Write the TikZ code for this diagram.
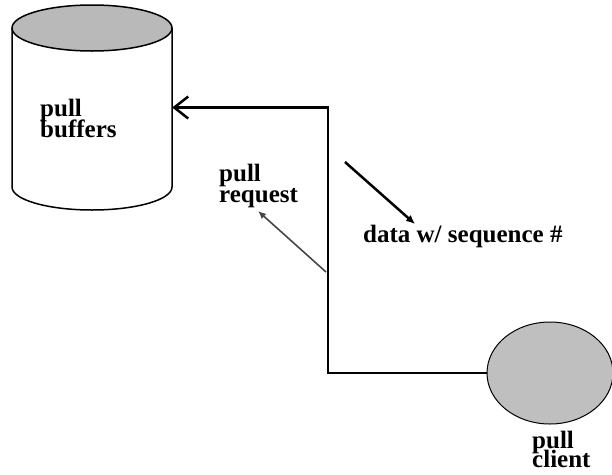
\documentclass[tikz,border=0pt]{standalone}
\usepackage{fontspec}
\setmainfont{Liberation Serif}
\usetikzlibrary{shapes.geometric,arrows.meta}
\newcommand\tightlines{\lineskiplimit=-30pt\relax}

\begin{document}
\begin{tikzpicture}[x=1pt,y=-1pt,
    lbl/.style={font=\fontsize{25}{21}\selectfont\bfseries\tightlines,
        align=left,inner sep=0pt,anchor=north west},
    wire/.style={line width=2.5pt},
    thinwire/.style={line width=1.6pt,gray!55!black}]
    \useasboundingbox (0,0) rectangle (612,474);
    % store: a cylinder drawn by hand round an empty node
    \node[minimum width=160pt,minimum height=205pt,inner sep=0pt] (buffers) at (92,107.5) {};
    \draw[line width=1.5pt,fill=white] (12,28) -- (12,187)
        arc[start angle=180,end angle=0,x radius=80,y radius=23] -- (172,28);
    \draw[line width=1.5pt,fill=gray!55] (92,28) ellipse[x radius=80,y radius=23];
    % client
    \node[ellipse,draw,line width=1pt,fill=gray!50,
        minimum width=126pt,minimum height=102pt,inner sep=0pt]
        (client) at (550,373) {};
    % labels
    \node[lbl] (buflbl) at (40,99) {pull\\buffers};
    \node[lbl] (reqlbl) at (219,164) {pull\\request};
    \node[lbl] (datalbl) at (363,225) {data w/ sequence \#};
    \node[lbl,font=\fontsize{25}{19}\selectfont\bfseries\tightlines]
        (clilbl) at (532,431) {pull\\client};
    % wire from client to buffers
    \coordinate (bus) at (328,373);
    \draw[wire,-{Straight Barb[length=14pt,width=22pt]}] (client.west) -- (bus) |- (buffers.east);
    % request and data arrows
    \coordinate (reqfoot) at (326,272);
    \coordinate (reqtip) at (258,211);
    \draw[thinwire,-{Latex[length=8pt,width=7pt]}] (reqfoot) -- (reqtip);
    \coordinate (datafrom) at (345,162);
    \coordinate (datato) at (415,224);
    \draw[wire,-{Latex[length=9pt,width=8pt]}] (datafrom) -- (datato);
\end{tikzpicture}
\end{document}
